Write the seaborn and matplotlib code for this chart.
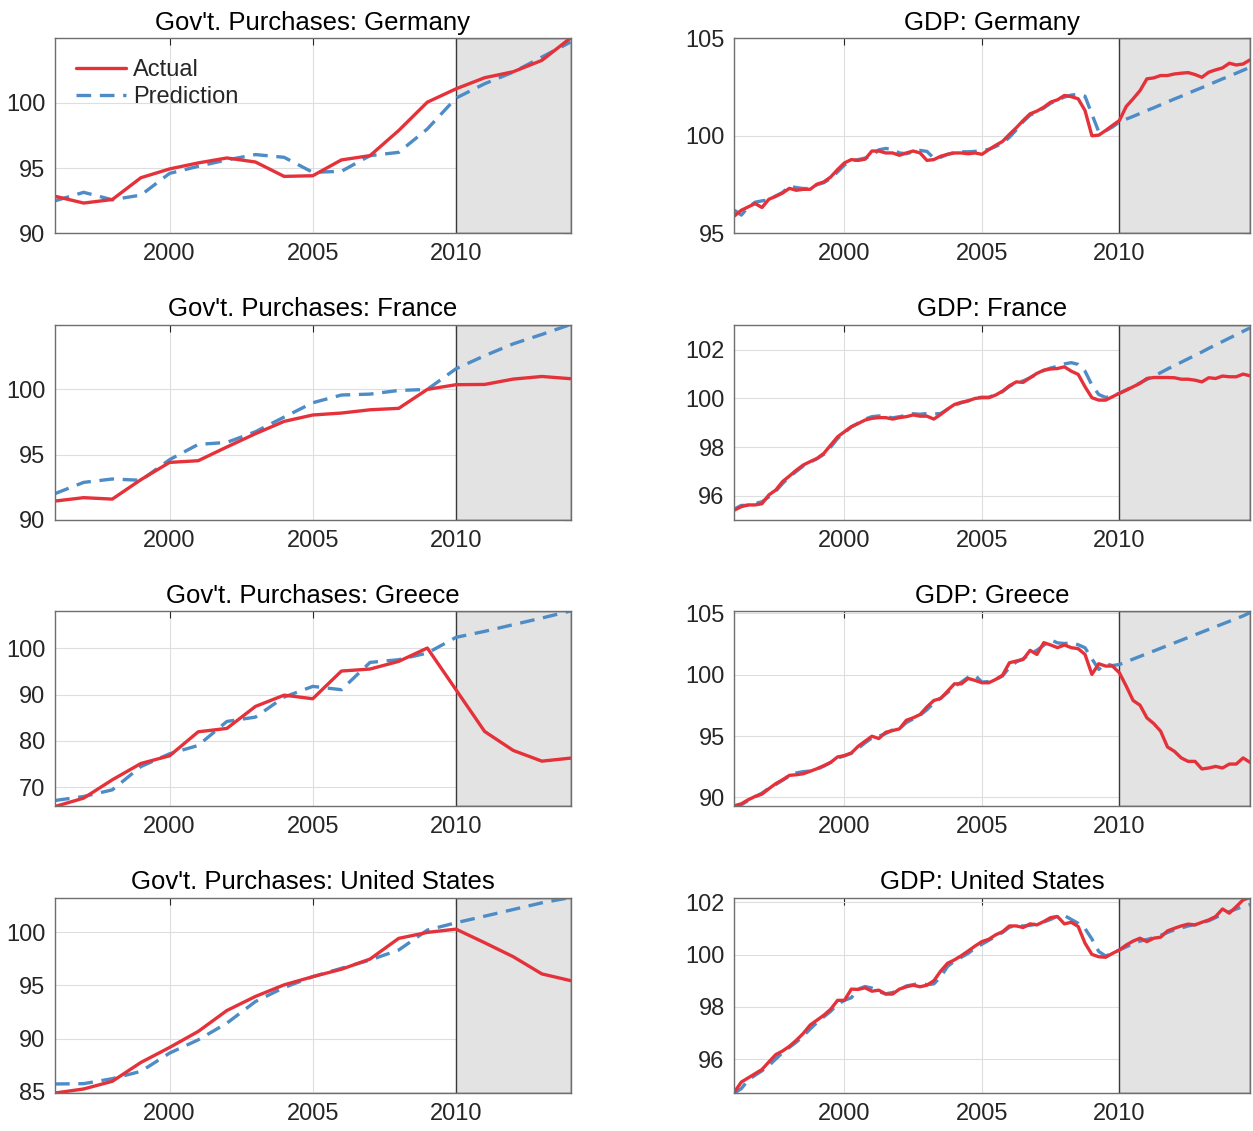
import matplotlib
matplotlib.use("Agg")
import matplotlib.pyplot as plt
import seaborn as sns

years = list(range(1996, 2015))
quarters = [y + q / 4 for y in range(1996, 2015) for q in range(4)]

# Government purchases, annual (index, 2009 = 100)
gov_de_actual = [92.85, 92.33, 92.6, 94.27, 94.94, 95.4, 95.78, 95.47, 94.37, 94.42,
                 95.63, 95.96, 97.88, 100.05, 101.07, 101.92, 102.38, 103.25, 104.96]
gov_de_pred = [92.5, 93.15, 92.58, 92.94, 94.6, 95.14, 95.63, 96.04, 95.83, 94.68,
               94.76, 95.96, 96.21, 98.0, 100.36, 101.46, 102.35, 103.5, 104.65]
gov_fr_actual = [91.45, 91.71, 91.6, 93.09, 94.41, 94.54, 95.59, 96.61, 97.55, 98.04,
                 98.19, 98.44, 98.55, 100.0, 100.36, 100.38, 100.79, 100.99, 100.82]
gov_fr_pred = [92.02, 92.88, 93.14, 93.04, 94.62, 95.79, 95.94, 96.76, 97.88, 98.98,
               99.57, 99.64, 99.92, 100.0, 101.58, 102.58, 103.49, 104.21, 104.97]
gov_gr_actual = [65.9, 67.7, 71.64, 75.16, 76.81, 81.98, 82.7, 87.44, 89.86, 89.09,
                 95.05, 95.48, 97.13, 100.0, 91.03, 82.05, 77.96, 75.66, 76.31]
gov_gr_pred = [67.19, 68.05, 69.48, 74.5, 77.24, 79.04, 84.2, 85.14, 89.45, 91.75,
               91.03, 96.91, 97.49, 98.92, 102.3, 103.59, 105.03, 106.46, 107.97]
gov_us_actual = [84.87, 85.25, 85.97, 87.75, 89.16, 90.67, 92.64, 93.97, 95.06, 95.83,
                 96.53, 97.49, 99.44, 100.0, 100.31, 99.03, 97.71, 96.09, 95.46]
gov_us_pred = [85.72, 85.75, 86.22, 86.91, 88.63, 89.88, 91.45, 93.49, 94.81, 95.83,
               96.62, 97.4, 98.34, 100.22, 100.91, 101.53, 102.16, 102.79, 103.29]

# GDP, quarterly 1996Q1-2014Q4
gdp_de_actual = [95.9, 96.19, 96.36, 96.53, 96.33, 96.75, 96.9, 97.07, 97.31, 97.21,
                 97.26, 97.26, 97.52, 97.64, 97.89, 98.27, 98.61, 98.78, 98.74, 98.8,
                 99.22, 99.22, 99.12, 99.12, 99.0, 99.12, 99.22, 99.12, 98.74, 98.78,
                 98.95, 99.05, 99.12, 99.12, 99.08, 99.12, 99.05, 99.29, 99.51, 99.71,
                 100.07, 100.41, 100.78, 101.12, 101.26, 101.46, 101.72, 101.84, 102.06, 102.0,
                 101.89, 101.29, 100.0, 100.03, 100.27, 100.53, 100.78, 101.5, 101.89, 102.31,
                 102.91, 102.96, 103.08, 103.08, 103.16, 103.2, 103.23, 103.13, 102.99, 103.25,
                 103.37, 103.47, 103.71, 103.62, 103.67, 103.88]
gdp_de_pred = [96.19, 95.94, 96.35, 96.6, 96.67, 96.72, 96.92, 97.1, 97.42, 97.35,
               97.3, 97.3, 97.5, 97.6, 97.82, 98.15, 98.5, 98.7, 98.78, 98.86,
               98.95, 99.28, 99.35, 99.3, 99.12, 99.08, 99.18, 99.25, 99.2, 98.85,
               98.9, 99.05, 99.15, 99.18, 99.18, 99.2, 99.25, 99.3, 99.45, 99.62,
               99.92, 100.3, 100.72, 101.05, 101.22, 101.42, 101.66, 101.82, 101.98, 102.08,
               102.12, 102.02, 101.1, 100.2, 100.25, 100.45, 100.7, 100.85, 100.99, 101.14,
               101.29, 101.43, 101.58, 101.73, 101.88, 102.02, 102.17, 102.32, 102.46, 102.61,
               102.76, 102.91, 103.05, 103.2, 103.35, 103.5]
gdp_fr_actual = [95.41, 95.55, 95.62, 95.62, 95.67, 96.03, 96.23, 96.58, 96.81, 97.05,
                 97.26, 97.4, 97.53, 97.74, 98.08, 98.42, 98.63, 98.84, 98.97, 99.11,
                 99.18, 99.21, 99.21, 99.15, 99.21, 99.25, 99.32, 99.27, 99.27, 99.15,
                 99.34, 99.56, 99.75, 99.84, 99.9, 100.0, 100.03, 100.03, 100.14, 100.3,
                 100.52, 100.68, 100.66, 100.85, 101.03, 101.16, 101.21, 101.23, 101.3, 101.12,
                 100.99, 100.48, 100.03, 99.93, 99.93, 100.07, 100.21, 100.34, 100.48, 100.62,
                 100.82, 100.86, 100.86, 100.86, 100.85, 100.79, 100.79, 100.75, 100.68, 100.85,
                 100.82, 100.92, 100.89, 100.89, 101.0, 100.93]
gdp_fr_pred = [95.45, 95.6, 95.6, 95.68, 95.75, 95.95, 96.18, 96.5, 96.78, 97.0,
               97.22, 97.38, 97.52, 97.7, 98.0, 98.35, 98.6, 98.82, 98.98, 99.15,
               99.25, 99.28, 99.25, 99.2, 99.25, 99.3, 99.37, 99.35, 99.38, 99.36,
               99.38, 99.55, 99.72, 99.82, 99.9, 100.02, 100.05, 100.05, 100.15, 100.28,
               100.5, 100.65, 100.72, 100.85, 101.0, 101.15, 101.25, 101.32, 101.42, 101.47,
               101.4, 101.12, 100.55, 100.16, 100.04, 100.1, 100.21, 100.35, 100.49, 100.64,
               100.78, 100.92, 101.06, 101.21, 101.35, 101.49, 101.63, 101.77, 101.91, 102.06,
               102.2, 102.34, 102.48, 102.62, 102.76, 102.9]
gdp_gr_actual = [89.32, 89.48, 89.81, 90.08, 90.27, 90.71, 91.12, 91.44, 91.8, 91.85,
                 91.93, 92.13, 92.34, 92.59, 92.86, 93.3, 93.41, 93.62, 94.17, 94.58,
                 94.99, 94.8, 95.31, 95.45, 95.59, 96.29, 96.49, 96.76, 97.38, 97.9,
                 98.07, 98.66, 99.26, 99.26, 99.7, 99.54, 99.35, 99.35, 99.62, 99.97,
                 100.98, 101.12, 101.25, 101.99, 101.66, 102.62, 102.43, 102.21, 102.43, 102.21,
                 102.13, 101.66, 100.03, 100.9, 100.71, 100.71, 100.16, 99.07, 97.9, 97.52,
                 96.49, 96.02, 95.4, 94.11, 93.76, 93.22, 92.94, 92.94, 92.32, 92.4,
                 92.53, 92.4, 92.72, 92.72, 93.22, 92.86]
gdp_gr_pred = [89.26, 89.4, 89.75, 90.05, 90.35, 90.75, 91.05, 91.4, 91.75, 92.0,
               92.1, 92.15, 92.3, 92.55, 92.85, 93.2, 93.4, 93.6, 94.0, 94.45,
               94.85, 95.0, 95.2, 95.5, 95.6, 96.1, 96.4, 96.7, 97.15, 97.7,
               98.1, 98.55, 99.05, 99.4, 99.8, 99.95, 99.4, 99.45, 99.6, 99.9,
               100.6, 101.05, 101.3, 101.7, 102.0, 102.4, 102.85, 102.6, 102.55, 102.6,
               102.45, 102.2, 101.3, 100.44, 100.9, 100.75, 100.84, 101.06, 101.28, 101.5,
               101.72, 101.94, 102.16, 102.38, 102.6, 102.82, 103.04, 103.26, 103.48, 103.7,
               103.92, 104.14, 104.36, 104.58, 104.8, 105.07]
gdp_us_actual = [94.74, 95.12, 95.28, 95.44, 95.6, 95.89, 96.17, 96.31, 96.49, 96.72,
                 96.98, 97.3, 97.49, 97.68, 97.91, 98.25, 98.25, 98.68, 98.67, 98.73,
                 98.6, 98.64, 98.49, 98.49, 98.68, 98.77, 98.83, 98.77, 98.83, 99.0,
                 99.37, 99.67, 99.8, 99.96, 100.14, 100.33, 100.5, 100.59, 100.76, 100.88,
                 101.1, 101.1, 101.04, 101.18, 101.14, 101.27, 101.42, 101.46, 101.18, 101.24,
                 101.08, 100.44, 100.01, 99.92, 99.9, 100.05, 100.18, 100.37, 100.52, 100.63,
                 100.5, 100.63, 100.67, 100.91, 101.01, 101.1, 101.17, 101.14, 101.24, 101.33,
                 101.46, 101.75, 101.59, 101.84, 102.1, 102.19]
gdp_us_pred = [94.7, 94.87, 95.2, 95.38, 95.55, 95.75, 96.0, 96.25, 96.45, 96.65,
               96.88, 97.15, 97.4, 97.62, 97.83, 98.1, 98.25, 98.35, 98.68, 98.78,
               98.72, 98.58, 98.5, 98.55, 98.65, 98.8, 98.85, 98.9, 98.85, 98.88,
               99.15, 99.55, 99.75, 99.9, 100.05, 100.25, 100.4, 100.55, 100.7, 100.85,
               101.05, 101.12, 101.1, 101.12, 101.18, 101.25, 101.35, 101.48, 101.5, 101.35,
               101.2, 101.0, 100.6, 100.12, 99.95, 100.05, 100.18, 100.3, 100.42, 100.52,
               100.58, 100.65, 100.74, 100.85, 100.95, 101.02, 101.1, 101.15, 101.22, 101.3,
               101.42, 101.55, 101.65, 101.75, 101.85, 101.92]

countries = ["Germany", "France", "Greece", "United States"]
gov_series = [(gov_de_actual, gov_de_pred), (gov_fr_actual, gov_fr_pred),
              (gov_gr_actual, gov_gr_pred), (gov_us_actual, gov_us_pred)]
gdp_series = [(gdp_de_actual, gdp_de_pred), (gdp_fr_actual, gdp_fr_pred),
              (gdp_gr_actual, gdp_gr_pred), (gdp_us_actual, gdp_us_pred)]
gov_ylims = [(90, 104.96), (90, 104.97), (65.9, 107.97), (84.87, 103.29)]
gov_yticks = [[90, 95, 100], [90, 95, 100], [70, 80, 90, 100], [85, 90, 95, 100]]
gdp_ylims = [(95, 105), (95.0, 103.04), (89.26, 105.2), (94.7, 102.19)]
gdp_yticks = [[95, 100, 105], [96, 98, 100, 102], [90, 95, 100, 105], [96, 98, 100, 102]]

RED = "#e5323a"
BLUE = "#4d8cc6"

sns.set_style("white")
plt.rcParams["font.family"] = ["Liberation Sans", "DejaVu Sans"]
plt.rcParams["xtick.direction"] = "in"
plt.rcParams["ytick.direction"] = "in"

fig, axes = plt.subplots(4, 2, figsize=(12.53, 11.31), dpi=100)
fig.subplots_adjust(left=0.0439, right=0.9976, top=0.9664, bottom=0.0336,
                    wspace=0.318, hspace=0.4655)


def draw_panel(ax, x, actual, pred, title, ylim, yticks, xmax, legend=False):
    ax.axvspan(2010, xmax, facecolor="#e3e3e3", edgecolor="#3a3a3a",
               linewidth=1.0, zorder=1)
    sns.lineplot(x=x, y=actual, ax=ax, color=RED, linewidth=2.4,
                 label="Actual" if legend else None, zorder=3)
    sns.lineplot(x=x, y=pred, ax=ax, color=BLUE, linewidth=2.4,
                 linestyle=(0, (4.4, 2.6)),
                 label="Prediction" if legend else None, zorder=2)
    ax.set_xlim(1996, xmax)
    ax.set_ylim(*ylim)
    ax.set_xticks([2000, 2005, 2010])
    ax.set_yticks(yticks)
    ax.grid(True, color="#dedede", linewidth=0.8, zorder=0)
    ax.set_axisbelow(True)
    ax.tick_params(axis="both", labelsize=17, colors="#262626", length=5,
                   width=0.8, top=True, right=True, pad=7)
    for sp in ax.spines.values():
        sp.set_color("#6e6e6e")
        sp.set_linewidth(1.0)
        sp.set_zorder(4)
    ax.set_title(title, fontsize=18.5, color="black", pad=6)
    ax.set_xlabel("")
    ax.set_ylabel("")
    if legend:
        ax.legend(loc="upper left", frameon=False, fontsize=17,
                  handlelength=2.1, handletextpad=0.3, labelspacing=0.2,
                  borderaxespad=0.5)
    elif ax.get_legend() is not None:
        ax.get_legend().remove()


for i, country in enumerate(countries):
    a, p = gov_series[i]
    draw_panel(axes[i, 0], years, a, p, f"Gov't. Purchases: {country}",
               gov_ylims[i], gov_yticks[i], 2014, legend=(i == 0))
    a, p = gdp_series[i]
    draw_panel(axes[i, 1], quarters, a, p, f"GDP: {country}",
               gdp_ylims[i], gdp_yticks[i], 2014.75)

fig.savefig("out.png", dpi=100)
